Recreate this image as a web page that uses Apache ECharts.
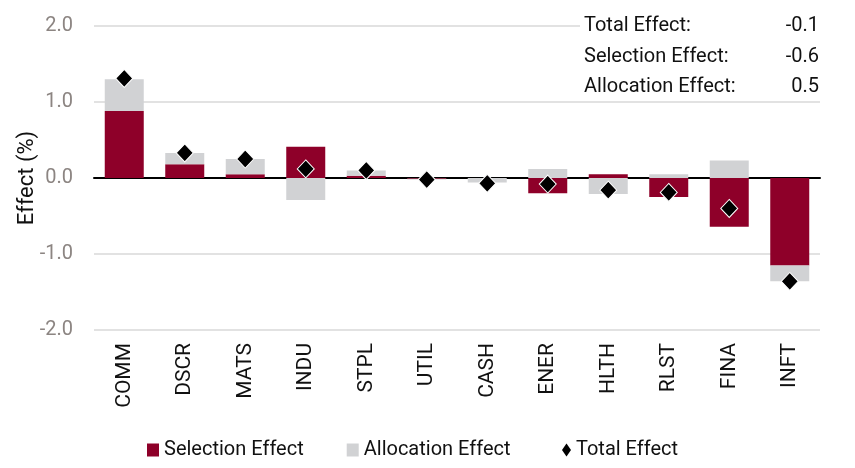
<!DOCTYPE html>
<html><head><meta charset="utf-8">
<script src="https://cdn.jsdelivr.net/npm/echarts@6/dist/echarts.min.js"></script>
<style>html,body{margin:0;padding:0;background:#fff}#c{width:855px;height:468px}</style>
</head><body><div id="c"></div>
<script>
const categories = ['COMM','DSCR','MATS','INDU','STPL','UTIL','CASH','ENER','HLTH','RLST','FINA','INFT'];
const selectionEffect = [0.88, 0.18, 0.05, 0.41, 0.03, -0.01, 0.00, -0.20, 0.05, -0.25, -0.64, -1.15];
const allocationEffect = [0.42, 0.15, 0.20, -0.29, 0.07, -0.01, -0.06, 0.12, -0.21, 0.05, 0.23, -0.21];
const totalEffect = [1.31, 0.33, 0.25, 0.12, 0.10, -0.02, -0.07, -0.08, -0.16, -0.19, -0.40, -1.36];
const summaryLabels = ['Total Effect:', 'Selection Effect:', 'Allocation Effect:'];
const summaryValues = ['-0.1', '-0.6', '0.5'];
const yTicks = {min: -2, max: 2, interval: 1};

const FONT = 'Roboto';
const chart = echarts.init(document.getElementById('c'));
const graphics = [{type:'rect', shape:{x:580,y:3,width:265,height:92}, style:{fill:'#fff'}, z:10}];
const rowY = [26, 56.5, 87];
summaryLabels.forEach((t,i)=>{
  graphics.push({type:'text', x:584, y:rowY[i], style:{text:t, font:'20px '+FONT, fill:'#111', textVerticalAlign:'middle'}, z:11});
  graphics.push({type:'text', x:819, y:rowY[i], style:{text:summaryValues[i], font:'20px '+FONT, fill:'#111', textAlign:'right', textVerticalAlign:'middle'}, z:11});
});
chart.setOption({
  animation:false,
  textStyle:{fontFamily:FONT},
  grid:{left:94, right:35, top:26, bottom:138, outerBoundsMode:'none', containLabel:false},
  legend:[
    {left:142, top:435, itemWidth:12, itemHeight:13, itemGap:43,
     textStyle:{fontSize:20, color:'#111', fontFamily:FONT},
     data:[{name:'Selection Effect', icon:'rect'},{name:'Allocation Effect', icon:'rect'}]},
    {left:557, top:435, itemWidth:9, itemHeight:13,
     textStyle:{fontSize:20, color:'#111', fontFamily:FONT},
     data:[{name:'Total Effect', icon:'diamond', itemStyle:{borderWidth:0}}]}
  ],
  xAxis:{type:'category', data:categories,
    axisLine:{onZero:true, lineStyle:{color:'#000', width:2}}, axisTick:{show:false},
    axisLabel:{rotate:90, fontSize:21, color:'#111', margin:13, fontFamily:FONT, align:'right', verticalAlign:'middle'}},
  yAxis:{type:'value', min:yTicks.min, max:yTicks.max, interval:yTicks.interval,
    name:'Effect (%)', nameLocation:'middle', nameGap:56, nameMoveOverlap:false,
    nameTextStyle:{fontSize:22, color:'#111', fontFamily:FONT},
    axisLabel:{fontSize:20, color:'#8c8582', margin:21, formatter:v=>v.toFixed(1)},
    splitLine:{lineStyle:{color:'#d9d9d9', width:1.5}}, axisLine:{show:false}, axisTick:{show:false}},
  graphic:graphics,
  series:[
    {name:'Selection Effect', type:'bar', stack:'e', data:selectionEffect, barWidth:39, itemStyle:{color:'#8e0029'}},
    {name:'Allocation Effect', type:'bar', stack:'e', data:allocationEffect, barWidth:39, itemStyle:{color:'#d1d2d4'}},
    {name:'Total Effect', type:'scatter', data:totalEffect, symbol:'diamond', symbolSize:[17,18], z:5,
      itemStyle:{color:'#000', opacity:1, borderColor:'#fff', borderWidth:1}}
  ]
});
</script></body></html>
